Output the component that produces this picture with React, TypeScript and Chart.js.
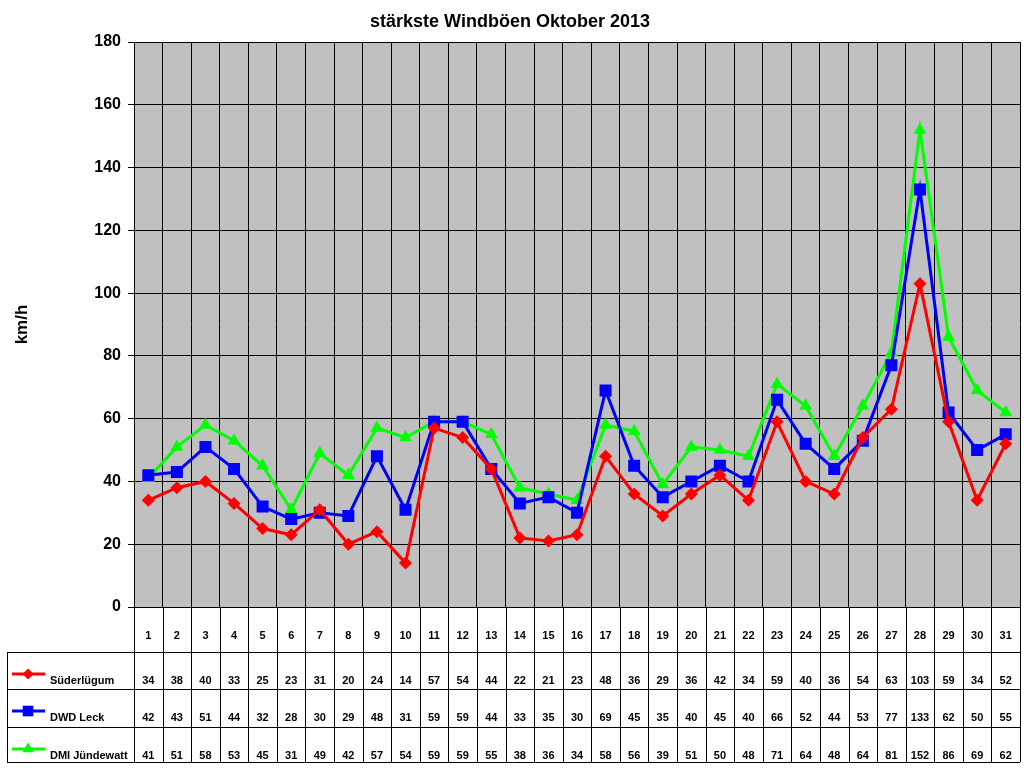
import { useEffect, useRef } from "react";
import { Chart, registerables } from "chart.js";

Chart.register(...registerables);

const FONT = "'Liberation Sans', Arial, sans-serif";

// Tage im Oktober 2013
const days = Array.from({ length: 31 }, (_, i) => String(i + 1));

// Stärkste Böen in km/h je Station
const suederluegum = [34, 38, 40, 33, 25, 23, 31, 20, 24, 14, 57, 54, 44, 22, 21, 23, 48, 36, 29, 36, 42, 34, 59, 40, 36, 54, 63, 103, 59, 34, 52];
const dwdLeck = [42, 43, 51, 44, 32, 28, 30, 29, 48, 31, 59, 59, 44, 33, 35, 30, 69, 45, 35, 40, 45, 40, 66, 52, 44, 53, 77, 133, 62, 50, 55];
const dmiJuendewatt = [41, 51, 58, 53, 45, 31, 49, 42, 57, 54, 59, 59, 55, 38, 36, 34, 58, 56, 39, 51, 50, 48, 71, 64, 48, 64, 81, 152, 86, 69, 62];

const yTicks = [0, 20, 40, 60, 80, 100, 120, 140, 160, 180];

// kleines Symbol für die Legende in der Tabelle
function drawMarker(ctx: CanvasRenderingContext2D, style: string, r: number, x: number, y: number) {
  ctx.beginPath();
  if (style === "rect") {
    const s = r * Math.SQRT1_2;
    ctx.rect(x - s, y - s, 2 * s, 2 * s);
  } else if (style === "rectRot") {
    ctx.moveTo(x, y - r);
    ctx.lineTo(x + r, y);
    ctx.lineTo(x, y + r);
    ctx.lineTo(x - r, y);
    ctx.closePath();
  } else {
    ctx.moveTo(x, y - r);
    ctx.lineTo(x + r * 0.866, y + r / 2);
    ctx.lineTo(x - r * 0.866, y + r / 2);
    ctx.closePath();
  }
  ctx.fill();
}

// Grauer Hintergrund der Zeichenfläche
const plotBackground = {
  id: "plotBackground",
  beforeDraw(chart: Chart) {
    const { ctx, chartArea } = chart;
    ctx.save();
    ctx.fillStyle = "#c0c0c0";
    ctx.fillRect(chartArea.left, chartArea.top, chartArea.right - chartArea.left, chartArea.bottom - chartArea.top);
    ctx.restore();
  },
};

// Datentabelle unter dem Diagramm (wie in Excel)
const dataTable = {
  id: "dataTable",
  afterDraw(chart: Chart) {
    const { ctx, chartArea } = chart;
    const xScale = chart.scales.x;
    const labels = chart.data.labels as string[];
    const n = labels.length;
    const left = chartArea.left;
    const right = chartArea.right;
    const top = chartArea.bottom;
    const cellW = (right - left) / n;
    const rows = [top, 652, 689, 727, 762];
    const tableLeft = 7;

    ctx.save();
    ctx.strokeStyle = "#000";
    ctx.lineWidth = 1;
    ctx.beginPath();
    for (let k = 0; k <= n; k++) {
      const x = Math.round(left + k * cellW) + 0.5;
      ctx.moveTo(x, top);
      ctx.lineTo(x, rows[4]);
    }
    for (let r = 1; r < rows.length; r++) {
      ctx.moveTo(tableLeft, rows[r] + 0.5);
      ctx.lineTo(right, rows[r] + 0.5);
    }
    ctx.moveTo(tableLeft + 0.5, rows[1]);
    ctx.lineTo(tableLeft + 0.5, rows[4]);
    ctx.stroke();

    ctx.fillStyle = "#000";
    ctx.font = `bold 11px ${FONT}`;
    ctx.textAlign = "center";
    ctx.textBaseline = "middle";
    labels.forEach((lab, i) => {
      ctx.fillText(lab, xScale.getPixelForValue(i), 636);
    });

    chart.data.datasets.forEach((ds: any, r) => {
      const textY = rows[r + 1] + 29;
      ctx.textAlign = "center";
      ctx.fillStyle = "#000";
      ctx.font = `bold 11px ${FONT}`;
      (ds.data as number[]).forEach((v, i) => {
        ctx.fillText(String(v), xScale.getPixelForValue(i), textY);
      });

      // Legendensymbol
      const ly = textY - 7;
      ctx.strokeStyle = ds.borderColor;
      ctx.lineWidth = 3;
      ctx.beginPath();
      ctx.moveTo(12, ly);
      ctx.lineTo(45, ly);
      ctx.stroke();
      ctx.fillStyle = ds.backgroundColor;
      drawMarker(ctx, ds.pointStyle, ds.pointRadius - 1, 28, ly);

      ctx.fillStyle = "#000";
      ctx.textAlign = "left";
      ctx.fillText(ds.label, 50, textY);
    });
    ctx.restore();
  },
};

export default function App() {
  const canvasRef = useRef<HTMLCanvasElement>(null);
  const chartInstance = useRef<Chart | null>(null);

  useEffect(() => {
    const canvas = canvasRef.current;
    if (!canvas) return;
    if (chartInstance.current) chartInstance.current.destroy();

    chartInstance.current = new Chart(canvas, {
      type: "line",
      data: {
        labels: days,
        datasets: [
          {
            label: "Süderlügum",
            data: suederluegum,
            borderColor: "#ff0000",
            backgroundColor: "#ff0000",
            borderWidth: 3,
            pointStyle: "rectRot",
            pointRadius: 6.5,
            pointBorderWidth: 0,
          },
          {
            label: "DWD Leck",
            data: dwdLeck,
            borderColor: "#0000ff",
            backgroundColor: "#0000ff",
            borderWidth: 3,
            pointStyle: "rect",
            pointRadius: 8.5,
            pointBorderWidth: 0,
          },
          {
            label: "DMI Jündewatt",
            data: dmiJuendewatt,
            borderColor: "#00ff00",
            backgroundColor: "#00ff00",
            borderWidth: 3,
            pointStyle: "triangle",
            pointRadius: 7.5,
            pointBorderWidth: 0,
          },
        ],
      },
      options: {
        responsive: false,
        animation: false,
        layout: { autoPadding: false, padding: { left: 0, right: 4, top: 0, bottom: 0 } },
        plugins: {
          legend: { display: false },
          tooltip: { enabled: false },
          title: {
            display: true,
            text: "stärkste Windböen Oktober 2013",
            color: "#000",
            font: { family: FONT, size: 18, weight: "bold" },
            padding: { top: 11, bottom: 9.4 },
          },
        },
        scales: {
          x: {
            offset: true,
            grid: { color: "#000", offset: true, drawTicks: false },
            border: { color: "#000" },
            ticks: { display: false },
            afterFit: (scale: any) => {
              scale.height = 161;
            },
          },
          y: {
            min: 0,
            max: 180,
            afterBuildTicks: (scale: any) => {
              scale.ticks = yTicks.map((v) => ({ value: v }));
            },
            grid: { color: "#000", tickLength: 6, tickColor: "#000" },
            border: { color: "#000" },
            ticks: {
              color: "#000",
              padding: 7,
              font: { family: FONT, size: 16, weight: "bold" },
            },
            title: {
              display: true,
              text: "km/h",
              color: "#000",
              font: { family: FONT, size: 17, weight: "bold" },
              padding: { top: 12, bottom: 0 },
            },
            afterFit: (scale: any) => {
              scale.width = 134;
            },
          },
        },
      },
      plugins: [plotBackground, dataTable],
    });

    return () => {
      if (chartInstance.current) {
        chartInstance.current.destroy();
        chartInstance.current = null;
      }
    };
  }, []);

  return (
    <div style={{ position: "fixed", left: 0, top: 0, width: 1024, height: 768, background: "#fff" }}>
      <canvas ref={canvasRef} width={1024} height={768} />
    </div>
  );
}
